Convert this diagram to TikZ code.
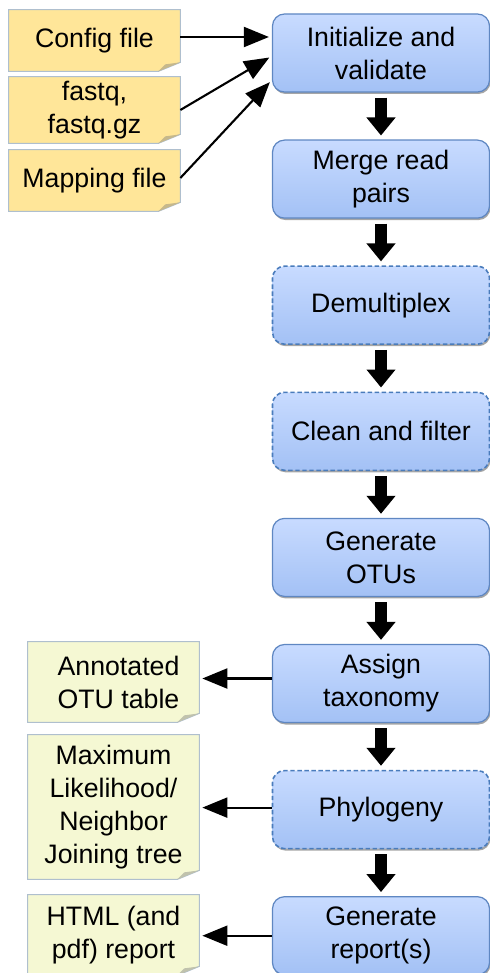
\documentclass[tikz,border=0pt]{standalone}
\usepackage{fontspec}
\setmainfont{Liberation Sans}
\usepackage{tikz}
\usetikzlibrary{shapes,positioning,calc,arrows.meta,shadows,backgrounds}

\definecolor{boxtop}{HTML}{C8DBFF}
\definecolor{boxbottom}{HTML}{A3C1F5}
\definecolor{boxline}{HTML}{5F87C2}
\definecolor{boxdash}{HTML}{4A7CBC}
\definecolor{inyellow}{HTML}{FFE699}
\definecolor{outgreen}{HTML}{F5F8D3}
\definecolor{noteline}{HTML}{AFBFCE}

\tikzset{
    stepbox/.style={rounded corners=0.24cm, draw=boxline, line width=0.7pt,
        top color=boxtop, bottom color=boxbottom,
        drop shadow={shadow xshift=0.02cm, shadow yshift=-0.04cm, fill=black!50, opacity=.7},
        minimum width=4.34cm, minimum height=1.56cm, align=center,
        font=\fontsize{15.2}{18.8}\selectfont},
    optbox/.style={stepbox, draw=boxdash, dash pattern=on 2.5pt off 1.5pt, line width=0.9pt},
    notebox/.style={minimum width=3.42cm, inner sep=0pt, align=center,
        font=\fontsize{15.2}{18.8}\selectfont},
    fatarrow/.style={line width=0.24cm, -{Triangle[width=0.56cm,length=0.36cm]},
        shorten <=0.1cm, shorten >=0.08cm},
    thinarrow/.style={line width=1.2pt, -{Triangle[width=0.4cm,length=0.5cm]}, shorten >=0.06cm}
}

\begin{document}
\begin{tikzpicture}
    \useasboundingbox (0,0) rectangle (9.78,-19.46);

    % Pipeline steps
    \foreach \i/\txt/\sty in {1/{Initialize and\\validate}/stepbox,
                               2/{Merge read\\pairs}/stepbox,
                               3/{Demultiplex}/optbox,
                               4/{Clean and filter}/optbox,
                               5/{Generate\\OTUs}/stepbox,
                               6/{Assign\\taxonomy}/stepbox,
                               7/{Phylogeny}/optbox,
                               8/{Generate\\report(s)}/stepbox}
        \node[\sty] (step\i) at (7.62,{-1.06-(\i-1)*2.522}) {\txt};

    \foreach \i [evaluate=\i as \j using int(\i+1)] in {1,...,7}
        \draw [fatarrow] (step\i) -- (step\j);

    % Inputs
    \node[notebox, minimum height=1.22cm] (cfgfile) at (1.89,-0.81) {Config file};
    \node[notebox, minimum height=1.32cm] (fastq) at (1.89,-2.2) {fastq,\\fastq.gz};
    \node[notebox, minimum height=1.22cm] (mapfile) at (1.89,-3.61) {Mapping file};

    % Outputs
    \node[notebox, minimum height=1.6cm] (otutable) at (2.27,-13.64) {\hspace{0.2cm}Annotated\\\hspace{0.2cm}OTU table};
    \node[notebox, minimum height=2.88cm] (tree) at (2.27,-16.14) {Maximum\\Likelihood/\\Neighbor\\Joining tree};
    \node[notebox, minimum height=1.6cm] (report) at (2.27,-18.7) {HTML (and\\pdf) report};

    % note sheets with folded corner
    \begin{pgfonlayer}{background}
    \foreach \n/\c in {cfgfile/inyellow, fastq/inyellow, mapfile/inyellow,
                       otutable/outgreen, tree/outgreen, report/outgreen} {
        \draw [draw=noteline, line width=0.6pt, fill=\c] (\n.north west) -- (\n.north east)
            -- ([yshift=0.18cm]\n.south east) -- ([xshift=-0.44cm]\n.south east)
            -- (\n.south west) -- cycle;
        \fill [\c!72!black!80] ([xshift=-0.44cm]\n.south east) -- ([xshift=-0.3cm,yshift=0.14cm]\n.south east)
            -- ([yshift=0.18cm]\n.south east) -- cycle;
    }
    \end{pgfonlayer}

    % Arrows in
    \draw [thinarrow] ([yshift=0.07cm]cfgfile.east) -- ([yshift=0.32cm]step1.west);
    \draw [thinarrow] (fastq.east) -- ([yshift=-0.06cm]step1.west);
    \draw [thinarrow] ([yshift=0.05cm]mapfile.east) -- ([yshift=-0.54cm]step1.west);

    % Arrows out
    \draw [thinarrow] ([yshift=0.1cm]step6.west) -- ([yshift=0.1cm]step6.west -| otutable.east);
    \draw [thinarrow] ([yshift=0.04cm]step7.west) -- ([yshift=0.04cm]step7.west -| tree.east);
    \draw [thinarrow] (step8.west) -- (step8.west -| report.east);

\end{tikzpicture}
\end{document}
